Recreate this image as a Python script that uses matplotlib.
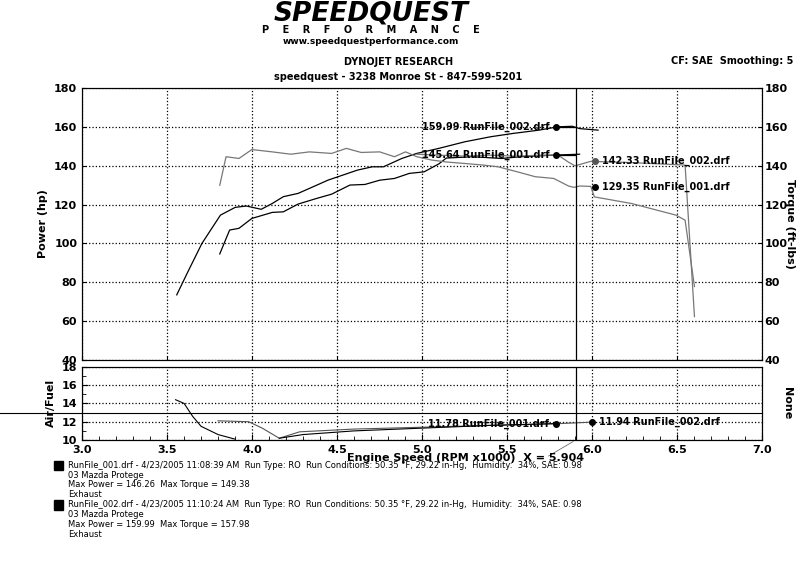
import matplotlib
matplotlib.use("Agg")
import matplotlib.pyplot as plt
import matplotlib.transforms as mtransforms

rpm_p2 = [3.557,3.618,3.705,3.814,3.901,3.966,4.054,4.119,4.184,4.271,4.359,4.446,4.533,4.62,4.707,4.773,4.881,4.969,5.099,5.252,5.404,5.535,5.688,5.797,5.884,5.927,6.036]
pow_2 = [73.5,84.6,100,114.6,118.6,119.3,117.6,120.6,124.1,125.8,129.2,132.6,135.2,137.8,139.5,139.5,143.8,146.4,149,152.4,155,156.7,158.4,160.1,160.4,159.2,158.4]

rpm_p1 = [3.81,3.868,3.923,3.999,4.119,4.184,4.271,4.38,4.468,4.576,4.664,4.751,4.838,4.925,5.012,5.099,5.143,5.295,5.47,5.579,5.797,5.927]
pow_1 = [94.6,106.9,107.8,112.9,116,116.3,120.3,123.2,125.4,130.1,130.4,132.6,133.5,136.1,136.9,141,144,144.7,143.8,144.7,145.6,146]

rpm_t1 = [3.81,3.847,3.923,3.999,4.119,4.228,4.337,4.468,4.555,4.642,4.751,4.838,4.903,4.969,5.056,5.143,5.252,5.361,5.448,5.557,5.666,5.775,5.862,5.895,5.927,5.993,6.014,6.232,6.494,6.548,6.603]
tq_1 = [130,144.7,143.8,148.4,147.2,146,147.2,146.4,149,146.9,147.2,144.7,147.2,144.7,143,142,141.2,140.4,139.5,137,134.4,133.5,129.6,128.9,129.6,129.4,124,120.6,114.6,112,77.8]

rpm_t2 = [4.97,5.1,5.25,5.4,5.55,5.7,5.8,5.86,5.9,5.993,6.2,6.4,6.548,6.603]
tq_2 = [146,145.5,145,145.5,145,145.5,145.6,142,140,142.3,141.8,141,140.4,62.3]

rpm_a1 = [3.55,3.6,3.65,3.7,3.8,3.9]
afr_1 = [14.4,14.0,12.6,11.5,10.6,10.1]
rpm_a2 = [3.8,3.98,4.06,4.16,4.28,4.6,5.0,5.4,5.79,5.98]
afr_2 = [12.1,12.0,11.3,10.2,10.9,11.2,11.4,11.6,11.78,11.94]
rpm_a3 = [4.16,4.3,4.6,5.0,5.4,5.79]
afr_3 = [10.2,10.6,11.0,11.3,11.6,11.8]

cursor = 5.904
xticks = [3.0,3.5,4.0,4.5,5.0,5.5,6.0,6.5,7.0]

fig = plt.figure(figsize=(7.97,5.73), dpi=100)
fig.patch.set_facecolor('white')
ax = fig.add_axes([0.103,0.372,0.853,0.474])
ax2 = fig.add_axes([0.103,0.232,0.853,0.128])

ax.plot(rpm_p1, pow_1, color='black', lw=0.9)
ax.plot(rpm_p2, pow_2, color='black', lw=0.9)
ax.plot(rpm_t1, tq_1, color='#777777', lw=0.9)
ax.plot(rpm_t2, tq_2, color='#777777', lw=0.9)
ax.set_xlim(3,7); ax.set_ylim(40,180)
ax.set_xticks(xticks); ax.set_xticklabels([])
ax.set_yticks(range(40,181,20))
ax.grid(True, ls=':', color='black', lw=0.9)
ax.tick_params(labelsize=8, direction='in', length=3)
for l in ax.get_yticklabels(): l.set_fontweight('bold')
ax.set_ylabel('Power (hp)', fontsize=8, fontweight='bold')
axr = ax.twinx(); axr.set_ylim(40,180); axr.set_yticks(range(40,181,20))
axr.tick_params(labelsize=8, direction='in', length=3, pad=2)
for l in axr.get_yticklabels(): l.set_fontweight('bold')
fig.text(0.991,0.609,'Torque (ft-lbs)', fontsize=8, fontweight='bold', rotation=-90, ha='center', va='center')
ax.axvline(cursor, color='black', lw=0.9)

ann = [(5.79,160.0,'159.99 RunFile_002.drf','right','black'),
       (5.79,145.64,'145.64 RunFile_001.drf','right','black'),
       (6.02,142.33,'142.33 RunFile_002.drf','left','#555555'),
       (6.02,129.35,'129.35 RunFile_001.drf','left','black')]
for x,y,t,ha,c in ann:
    ax.plot([x],[y],'o',color=c,ms=4)
    dx = -0.04 if ha=='right' else 0.04
    ax.text(x+dx,y,t,ha=ha,va='center',fontsize=7,fontweight='bold')
ax.plot([5.79,5.9],[160,160],color='black',lw=0.9)
ax.plot([5.79,5.9],[145.64,145.64],color='black',lw=0.9)

ax2.plot(rpm_a1, afr_1, color='black', lw=0.8)
ax2.plot(rpm_a2, afr_2, color='#555555', lw=0.8)
ax2.plot(rpm_a3, afr_3, color='black', lw=0.8)
ax2.set_xlim(3,7); ax2.set_ylim(10,18)
ax2.set_xticks(xticks); ax2.set_yticks([10,12,14,16,18])
ax2.set_xticks([3+0.1*i for i in range(41)], minor=True)
ax2.set_yticks(range(10,19), minor=True)
ax2.grid(True, ls=':', color='black', lw=0.9)
ax2.tick_params(labelsize=8, direction='in', length=4)
ax2.tick_params(which='minor', direction='in', length=3)
for l in ax2.get_xticklabels()+ax2.get_yticklabels(): l.set_fontweight('bold')
ax2.set_ylabel('Air/Fuel', fontsize=8, fontweight='bold')
ax2r = ax2.twinx(); ax2r.set_yticks([])
fig.text(0.987,0.296,'None', fontsize=8, fontweight='bold', rotation=-90, ha='center', va='center')
ax2.axvline(cursor, color='black', lw=0.9)
tr = mtransforms.blended_transform_factory(ax2.transAxes, ax2.transData)
ax2.plot([-0.13,1.0],[13,13], color='black', lw=0.8, transform=tr, clip_on=False)
for x,y,t,ha in [(5.79,11.78,'11.78 RunFile_001.drf','right'),(6.0,11.94,'11.94 RunFile_002.drf','left')]:
    ax2.plot([x],[y],'o',color='black',ms=4)
    ax2.text(x+(-0.04 if ha=='right' else 0.04),y,t,ha=ha,va='center',fontsize=7,fontweight='bold')
ax2.annotate('', xy=(cursor,10), xytext=(5.73,8.1), xycoords='data', textcoords='data',
             arrowprops=dict(arrowstyle='-', lw=0.5, color='#555555'), annotation_clip=False)
fig.text(0.435,0.195,'Engine Speed (RPM x1000)  X = 5.904', fontsize=8, fontweight='bold')

fig.text(0.465,0.976,'SPEEDQUEST', fontsize=19, fontweight='black', style='italic', ha='center', va='center')
fig.text(0.465,0.948,'P    E    R    F    O    R    M    A    N    C    E', fontsize=7, fontweight='bold', ha='center', va='center')
fig.text(0.465,0.928,'www.speedquestperformance.com', fontsize=6.5, fontweight='bold', ha='center', va='center')
fig.text(0.50,0.891,'DYNOJET RESEARCH', fontsize=7, fontweight='bold', ha='center', va='center')
fig.text(0.50,0.866,'speedquest - 3238 Monroe St - 847-599-5201', fontsize=7, fontweight='bold', ha='center', va='center')
fig.text(0.995,0.893,'CF: SAE  Smoothing: 5', fontsize=7, fontweight='bold', ha='right', va='center')

runs = [(0.188,'RunFile_001.drf - 4/23/2005 11:08:39 AM  Run Type: RO  Run Conditions: 50.35 °F, 29.22 in-Hg,  Humidity:  34%, SAE: 0.98','Max Power = 146.26  Max Torque = 149.38'),
        (0.119,'RunFile_002.drf - 4/23/2005 11:10:24 AM  Run Type: RO  Run Conditions: 50.35 °F, 29.22 in-Hg,  Humidity:  34%, SAE: 0.98','Max Power = 159.99  Max Torque = 157.98')]
for y,l1,l3 in runs:
    fig.patches.append(plt.Rectangle((0.068,y-0.009),0.011,0.017,transform=fig.transFigure,color='black'))
    fig.text(0.085,y,l1,fontsize=6,va='center')
    fig.text(0.085,y-0.017,'03 Mazda Protege',fontsize=6,va='center')
    fig.text(0.085,y-0.034,l3,fontsize=6,va='center')
    fig.text(0.085,y-0.051,'Exhaust',fontsize=6,va='center')

fig.savefig('out.png', dpi=100)
